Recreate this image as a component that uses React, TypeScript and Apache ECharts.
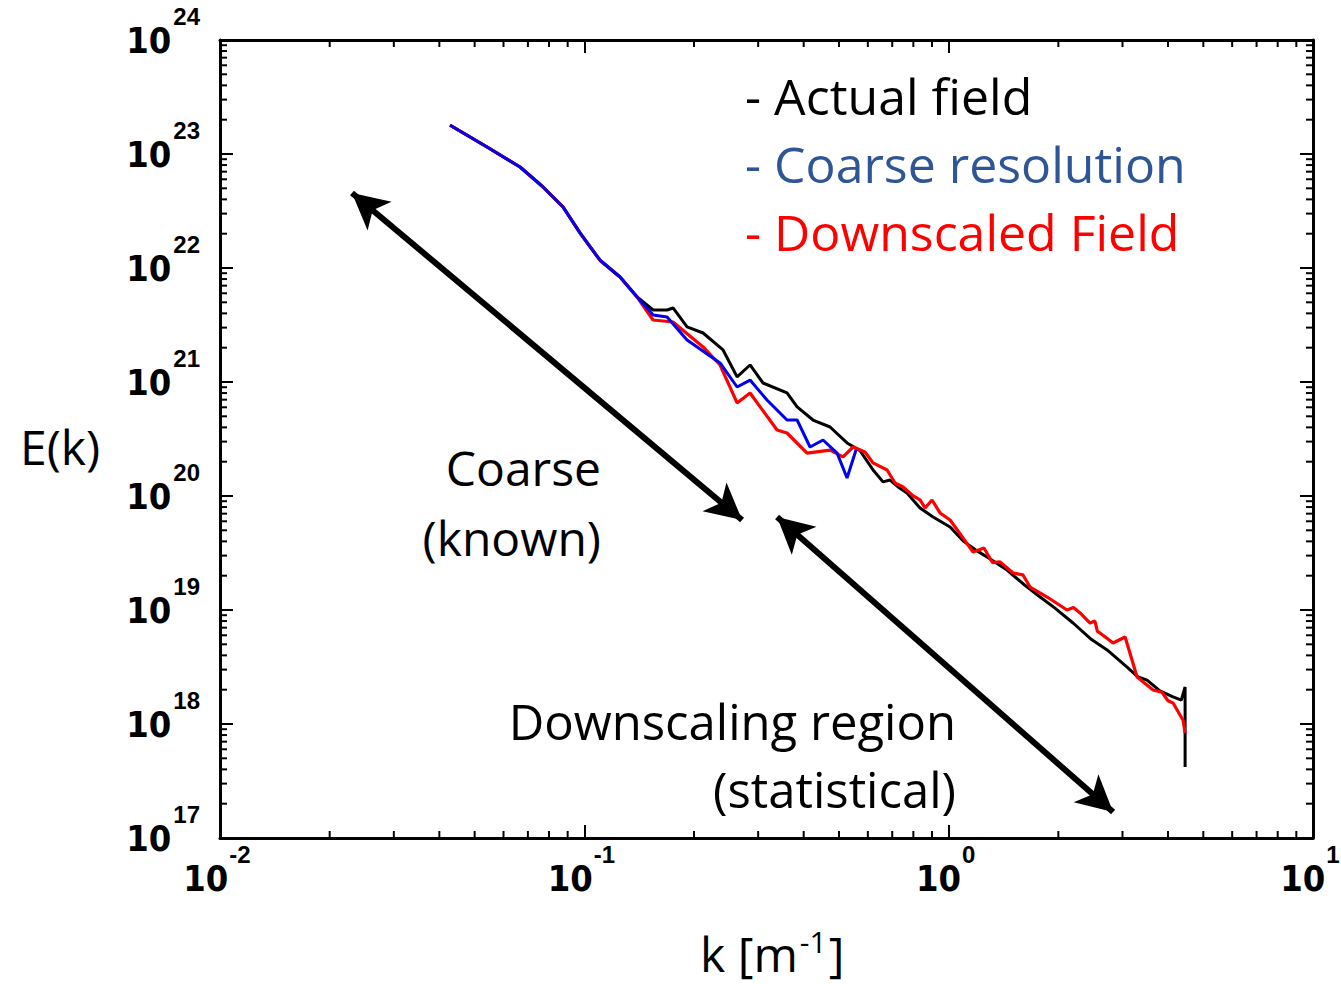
import React, { useEffect, useRef } from 'react';
import * as echarts from 'echarts';

// ---------- data ----------
const actualK = [
  0.0428, 0.0541, 0.0666, 0.077, 0.0874, 0.0973, 0.1104, 0.1253, 0.1396, 0.1544,
  0.1687, 0.1752, 0.1914, 0.2118, 0.2403, 0.2626, 0.285, 0.3094, 0.36, 0.3837,
  0.4244, 0.4726, 0.5261, 0.5711, 0.6202, 0.6605, 0.6906, 0.7264, 0.7687, 0.8345,
  0.9062, 1.009, 1.1, 1.197, 1.3, 1.446, 1.6, 1.782, 1.95, 2.195, 2.45, 2.722,
  3.088, 3.3, 3.504, 3.8, 4.13, 4.35, 4.456, 4.456,
];
const actualE = [
  1.79e23, 1.15e23, 7.69e22, 5.14e22, 3.43e22, 2.03e22, 1.17e22, 8.34e21, 5.57e21, 4.28e21,
  4.28e21, 4.46e21, 3.04e21, 2.69e21, 1.91e21, 1.11e21, 1.41e21, 9.8e20, 8.01e20, 6.04e20,
  4.64e20, 4.03e20, 2.92e20, 2.5e20, 1.69e20, 1.33e20, 1.38e20, 1.2e20, 1.06e20, 7.85e19,
  6.55e19, 5.35e19, 4.0e19, 3.3e19, 2.8e19, 2.24e19, 1.7e19, 1.3e19, 1.05e19, 7.69e18, 5.6e18, 4.46e18,
  3.16e18, 2.6e18, 2.43e18, 1.95e18, 1.73e18, 1.62e18, 2.11e18, 4.2e17,
];

const coarseK = [
  0.0428, 0.0541, 0.0666, 0.077, 0.0874, 0.0973, 0.1104, 0.1253, 0.1396, 0.1544,
  0.1687, 0.1914, 0.2358, 0.2626, 0.285, 0.3172, 0.36, 0.3837, 0.4164, 0.452,
  0.4941, 0.5261, 0.5568,
];
const coarseE = [
  1.79e23, 1.15e23, 7.69e22, 5.14e22, 3.43e22, 2.03e22, 1.17e22, 8.34e21, 5.57e21, 3.87e21,
  3.72e21, 2.34e21, 1.47e21, 9.04e20, 1.04e21, 6.95e20, 4.64e20, 4.64e20, 2.69e20, 3.1e20,
  2.38e20, 1.44e20, 2.53e20,
];

const downK = [
  0.0428, 0.0541, 0.0666, 0.077, 0.0874, 0.0973, 0.1104, 0.1253, 0.1396, 0.1544,
  0.1752, 0.2118, 0.2358, 0.2626, 0.285, 0.3381, 0.36, 0.4086, 0.4726, 0.5129,
  0.5465, 0.5894, 0.6202, 0.6776, 0.7126, 0.7497, 0.7933, 0.8345, 0.8615, 0.9003,
  0.9471, 1.009, 1.167, 1.25, 1.32, 1.384, 1.503, 1.6, 1.673, 1.863, 2.113, 2.2,
  2.295, 2.444, 2.52, 2.56, 2.603, 2.827, 3.05, 3.186, 3.289, 3.64, 3.85, 4.0,
  4.13, 4.4, 4.456,
];
const downE = [
  1.79e23, 1.15e23, 7.69e22, 5.14e22, 3.43e22, 2.03e22, 1.17e22, 8.34e21, 5.57e21, 3.5e21,
  3.36e21, 2.03e21, 1.41e21, 6.55e20, 8.01e20, 3.79e20, 3.57e20, 2.38e20, 2.53e20, 2.2e20,
  2.69e20, 2.43e20, 1.95e20, 1.69e20, 1.3e20, 1.2e20, 1.02e20, 9.23e19, 7.85e19, 9.23e19,
  7.1e19, 6.16e19, 3.23e19, 3.5e19, 2.6e19, 2.64e19, 2.11e19, 2.03e19, 1.59e19, 1.3e19, 1.0e19, 1.05e19,
  9.42e18, 7.69e18, 8.0e18, 6.5e18, 6.28e18, 5.14e18, 5.8e18, 3.64e18, 2.58e18, 1.99e18, 1.9e18, 1.6e18,
  1.53e18, 1.08e18, 8.34e17,
];

// double-headed annotation arrows (tip to tip), in data coordinates [k, E]
const arrowSegments = [
  [[0.02303, 4.55e22], [0.271, 6.16e19]],
  [[0.3381, 6.55e19], [2.827, 1.69e17]],
];

const xMinTick = 0.01;
const xMaxTick = 10;
const yMinTick = 1e17;
const yMaxTick = 1e24;
const minorMultipliers = [2, 3, 4, 5, 6, 7, 8, 9];
const xDecades = [-2, -1, 0];
const yDecades = [17, 18, 19, 20, 21, 22, 23];

const legendLabels = ['- Actual field', '- Coarse resolution', '- Downscaled Field'];
const legendColors = ['#000000', '#2F5597', '#FF0000'];
const seriesColors = ['#000000', '#0000EE', '#FF0000'];

const zip = (ks: number[], es: number[]) => ks.map((k, i) => [k, es[i]]);

const NUM_FONT = "'Liberation Sans Narrow', 'DejaVu Sans Condensed', 'Liberation Sans', sans-serif";
const SUP_FONT = "'Liberation Sans', Arial, sans-serif";
const TXT_FONT = "'Open Sans', 'Noto Sans', sans-serif";

export default function App() {
  const ref = useRef<HTMLDivElement>(null);

  useEffect(() => {
    if (!ref.current) return;
    const chart = echarts.init(ref.current, null, { renderer: 'svg' });

    const powFmt = (v: number) => `{b|10}{s|${Math.round(Math.log10(v))}}`;
    const yRich = {
      b: { fontFamily: NUM_FONT, fontWeight: 'bold', fontSize: 36, lineHeight: 36, padding: [18, 0, 18, 0], color: '#000' },
      s: { fontFamily: SUP_FONT, fontWeight: 'bold', fontSize: 24, lineHeight: 24, padding: [0, 0, 48, 2], color: '#000' },
    };
    const xRich = {
      b: { fontFamily: NUM_FONT, fontWeight: 'bold', fontSize: 36, lineHeight: 36, padding: [18, 0, 18, 0], color: '#000' },
      s: { fontFamily: SUP_FONT, fontWeight: 'bold', fontSize: 24, lineHeight: 24, padding: [0, 6, 48, 1], color: '#000' },
    };

    const xMinor: number[] = [];
    xDecades.forEach((d) => minorMultipliers.forEach((m) => xMinor.push(m * Math.pow(10, d))));
    const yMinor: number[] = [];
    yDecades.forEach((d) => minorMultipliers.forEach((m) => yMinor.push(m * Math.pow(10, d))));

    const axisLine = { show: true, onZero: false, lineStyle: { color: '#000', width: 3 } };
    const axisTick = { show: true, inside: true, length: 13, lineStyle: { color: '#000', width: 2 } };

    const option: any = {
      animation: false,
      backgroundColor: '#fff',
      grid: { left: 220, top: 40, right: 28, bottom: 146, containLabel: false, outerBoundsMode: 'none' },
      xAxis: [
        {
          type: 'log', logBase: 10, min: xMinTick, max: xMaxTick, splitNumber: 3,
          axisLine, axisTick, splitLine: { show: false },
          axisLabel: { formatter: powFmt, rich: xRich, margin: 22, showMinLabel: true, showMaxLabel: true, hideOverlap: false },
        },
        {
          type: 'log', logBase: 10, min: xMinTick, max: xMaxTick, splitNumber: 3, position: 'top',
          axisLine, axisTick, splitLine: { show: false }, axisLabel: { show: false },
        },
      ],
      yAxis: [
        {
          type: 'log', logBase: 10, min: yMinTick, max: yMaxTick, splitNumber: 7,
          axisLine, axisTick, splitLine: { show: false },
          axisLabel: { formatter: powFmt, rich: yRich, margin: 20, showMinLabel: true, showMaxLabel: true },
        },
        {
          type: 'log', logBase: 10, min: yMinTick, max: yMaxTick, splitNumber: 7, position: 'right',
          axisLine, axisTick, splitLine: { show: false }, axisLabel: { show: false },
        },
      ],
      series: [
        {
          name: 'Actual field', type: 'line', data: zip(actualK, actualE), showSymbol: false,
          lineStyle: { color: seriesColors[0], width: 3 }, z: 3,
          markLine: {
            silent: true, symbol: ['arrow', 'arrow'], symbolSize: [28, 36],
            label: { show: false },
            lineStyle: { color: '#000', width: 6, type: 'solid' },
            data: arrowSegments.map((s) => [{ coord: s[0] }, { coord: s[1] }]),
          },
        },
        {
          name: 'Downscaled Field', type: 'line', data: zip(downK, downE), showSymbol: false,
          lineStyle: { color: seriesColors[2], width: 3.2 }, z: 4,
        },
        {
          name: 'Coarse resolution', type: 'line', data: zip(coarseK, coarseE), showSymbol: false,
          lineStyle: { color: seriesColors[1], width: 3 }, z: 5,
        },
        {
          name: 'minor ticks', type: 'custom', silent: true, z: 6,
          data: [[0.1, 1e20]],
          renderItem: (params: any, api: any) => {
            const cs = params.coordSys;
            const top = cs.y;
            const bottom = cs.y + cs.height;
            const left = cs.x;
            const right = cs.x + cs.width;
            const L = 7;
            const st = { stroke: '#000', lineWidth: 2 };
            const children: any[] = [];
            xMinor.forEach((k) => {
              const px = api.coord([k, 1e20])[0];
              children.push({ type: 'line', shape: { x1: px, y1: bottom, x2: px, y2: bottom - L }, style: st });
              children.push({ type: 'line', shape: { x1: px, y1: top, x2: px, y2: top + L }, style: st });
            });
            yMinor.forEach((e) => {
              const py = api.coord([0.1, e])[1];
              children.push({ type: 'line', shape: { x1: left, y1: py, x2: left + L, y2: py }, style: st });
              children.push({ type: 'line', shape: { x1: right, y1: py, x2: right - L, y2: py }, style: st });
            });
            return { type: 'group', children };
          },
        },
      ],
      graphic: [
        ...legendLabels.map((t, i) => ({
          type: 'text', x: 745, y: 96 + i * 68, z: 10,
          style: { text: t, fill: legendColors[i], font: `50px ${TXT_FONT}`, textAlign: 'left', align: 'left', textVerticalAlign: 'middle', verticalAlign: 'middle' },
        })),
        {
          type: 'text', x: 601, y: 467, z: 10,
          style: { text: 'Coarse', fill: '#000', font: `48px ${TXT_FONT}`, textAlign: 'right', align: 'right', textVerticalAlign: 'middle', verticalAlign: 'middle' },
        },
        {
          type: 'text', x: 601, y: 537, z: 10,
          style: { text: '(known)', fill: '#000', font: `48px ${TXT_FONT}`, textAlign: 'right', align: 'right', textVerticalAlign: 'middle', verticalAlign: 'middle' },
        },
        {
          type: 'text', x: 956, y: 721, z: 10,
          style: { text: 'Downscaling region', fill: '#000', font: `49px ${TXT_FONT}`, textAlign: 'right', align: 'right', textVerticalAlign: 'middle', verticalAlign: 'middle' },
        },
        {
          type: 'text', x: 956, y: 789, z: 10,
          style: { text: '(statistical)', fill: '#000', font: `49px ${TXT_FONT}`, textAlign: 'right', align: 'right', textVerticalAlign: 'middle', verticalAlign: 'middle' },
        },
        {
          type: 'text', x: 20, y: 446, z: 10,
          style: { text: 'E(k)', fill: '#000', font: `48px ${TXT_FONT}`, textAlign: 'left', align: 'left', textVerticalAlign: 'middle', verticalAlign: 'middle' },
        },
        {
          type: 'text', x: 700, y: 953, z: 10,
          style: {
            text: '{n|k [m}{s|-1}{n|]}',
            textAlign: 'left', align: 'left', textVerticalAlign: 'middle', verticalAlign: 'middle',
            rich: {
              n: { fontFamily: TXT_FONT, fontSize: 48, lineHeight: 48, fill: '#000', color: '#000' },
              s: { fontFamily: TXT_FONT, fontSize: 30, lineHeight: 24, padding: [0, 2, 24, 2], fill: '#000', color: '#000' },
            },
          },
        },
      ],
    };

    chart.setOption(option);
    return () => chart.dispose();
  }, []);

  return (
    <div
      ref={ref}
      style={{ position: 'fixed', left: 0, top: 0, width: 1341, height: 984, background: '#fff' }}
    />
  );
}
